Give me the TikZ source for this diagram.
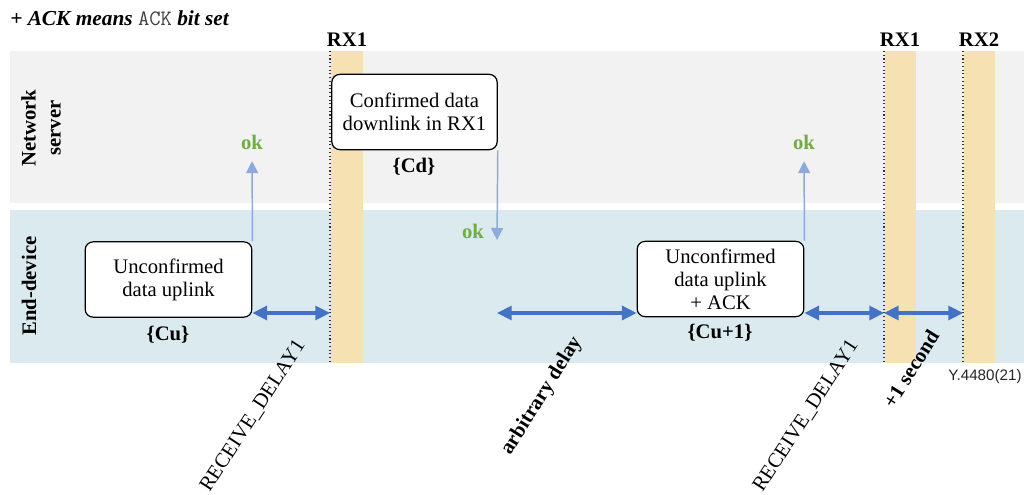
\documentclass[tikz,border=0pt]{standalone}
\usepackage{fontspec}
\setmainfont{Liberation Serif}
\newfontfamily\refsans{Liberation Sans}
\usetikzlibrary{arrows.meta}

\definecolor{serverband}{HTML}{F2F2F2}
\definecolor{deviceband}{HTML}{DAEAEF}
\definecolor{rxwindow}{HTML}{F6E1B2}
\definecolor{spanblue}{HTML}{4472C4}
\definecolor{ackblue}{HTML}{8EAADC}
\definecolor{okgreen}{HTML}{70AD47}
\definecolor{codegray}{HTML}{404040}

\tikzset{
  txt/.style={font=\fontsize{15.5}{17.3}\selectfont},
  msgbox/.style={txt, draw=black, line width=0.9pt, fill=white, rounded corners=6pt,
    align=center, minimum width=125pt, minimum height=56.5pt, inner sep=0pt},
  msgtag/.style={font=\fontsize{15.5}{17.3}\selectfont\bfseries},
  oklabel/.style={font=\fontsize{15.5}{17.3}\selectfont\bfseries, text=okgreen, inner sep=0pt, anchor=base},
  rxlabel/.style={font=\fontsize{15.5}{17.3}\selectfont\bfseries},
  lanelabel/.style={font=\fontsize{15.5}{18.8}\selectfont\bfseries, rotate=90, align=center},
  spanlabel/.style={font=\fontsize{15.5}{17.3}\selectfont, rotate=57},
  spanlabelbold/.style={font=\fontsize{15.5}{17.3}\selectfont\bfseries, rotate=58},
  span/.style={draw=spanblue, line width=2.3pt,
    {Triangle[length=11pt,width=10.5pt]}-{Triangle[length=11pt,width=10.5pt]}},
  ack/.style={draw=ackblue, line width=1.1pt, -{Triangle[length=9pt,width=9pt]}},
  marker/.style={draw=black!80, line width=0.8pt, dotted},
}

\begin{document}
\begin{tikzpicture}[x=0.75pt, y=-0.75pt]
\useasboundingbox (0,0) rectangle (1024,495);

% lanes
\fill[serverband] (10,51) rectangle (1024,203);
\fill[deviceband] (10,210) rectangle (1024,363);

% receive windows
\fill[rxwindow] (331,51) rectangle (363,363);
\fill[rxwindow] (885,51) rectangle (916,363);
\fill[rxwindow] (964,51) rectangle (995,363);
\draw[marker] (330,51) -- (330,363);
\draw[marker] (884,51) -- (884,363);
\draw[marker] (963,51) -- (963,363);

% title
\node[anchor=base west, inner sep=0pt, font=\fontsize{16}{18}\selectfont] (title) at (10,26)
  {\bfseries\itshape + ACK means {\ttfamily\mdseries\upshape\fontsize{16.5}{18}\selectfont\color{codegray}ACK} bit set};

% window labels
\node[rxlabel] (rx1a) at (347,40) {RX1};
\node[rxlabel] (rx1b) at (900,40) {RX1};
\node[rxlabel] (rx2) at (979,40) {RX2};

% lane labels
\node[lanelabel] (server) at (41,128) {Network\\server};
\node[lanelabel] (device) at (29,286) {End-device};

% messages
\node[msgbox] (b1) at (168.5,279.5) {Unconfirmed\\data uplink};
\node[msgtag] (t1) at (168,335) {\{Cu\}};
\node[msgbox, minimum width=124pt] (b2) at (414.5,112) {Confirmed data\\downlink in RX1};
\node[msgtag] (t2) at (414,167) {\{Cd\}};
\node[msgbox] (b3) at (720.5,279) {Unconfirmed\\data uplink\\+ ACK};
\node[msgtag] (t3) at (720,333) {\{Cu+1\}};

% acknowledgements
\node[oklabel] (ok1) at (252,150) {ok};
\node[oklabel] (ok2) at (473,239) {ok};
\node[oklabel] (ok3) at (804,150) {ok};
\coordinate (okdown) at (497,240);
\draw[ack, shorten >=8pt] (b1.north east) -- (ok1.south);
\draw[ack] (b2.south east) -- (okdown);
\draw[ack, shorten >=8pt] (b3.north east) -- (ok3.south);

% time spans
\coordinate (w1) at (330,313);
\coordinate (w2) at (884,313);
\coordinate (w3) at (963,313);
\draw[span] (b1.east |- w1) -- (w1);
\draw[span] (okdown |- w1) -- (b3.west |- w1);
\draw[span] (b3.east |- w2) -- (w2);
\draw[span] (w2) -- (w3);

% span labels
\node[spanlabel] (d1) at (253,416) {RECEIVE\_DELAY1};
\node[spanlabelbold] (d2) at (542,396) {arbitrary delay};
\node[spanlabel] (d3) at (806,416) {RECEIVE\_DELAY1};
\node[spanlabelbold] (d4) at (911,369) {+1 second};

% reference
\node[font=\refsans\fontsize{11.4}{13}\selectfont, text=black!85] (ref) at (985,377) {Y.4480(21)};
\end{tikzpicture}
\end{document}
